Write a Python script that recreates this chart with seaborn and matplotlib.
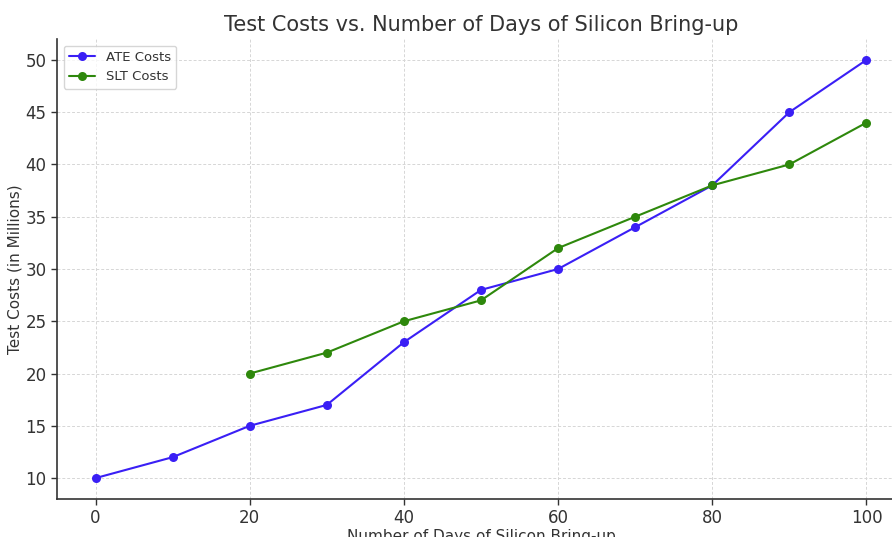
import pandas as pd
import matplotlib.pyplot as plt
import seaborn as sns

# Données
days_ate = [0, 10, 20, 30, 40, 50, 60, 70, 80, 90, 100]
ate_costs = [10, 12, 15, 17, 23, 28, 30, 34, 38, 45, 50]
days_slt = [20, 30, 40, 50, 60, 70, 80, 90, 100]
slt_costs = [20, 22, 25, 27, 32, 35, 38, 40, 44]

sns.set_style("whitegrid", {
    "grid.color": "#d6d6d6",
    "axes.edgecolor": "#333333",
    "xtick.bottom": True,
    "ytick.left": True,
})
plt.rcParams['font.family'] = ['DejaVu Sans']
plt.rcParams['text.color'] = '#333333'
plt.rcParams['xtick.color'] = '#333333'
plt.rcParams['ytick.color'] = '#333333'
plt.rcParams['axes.labelcolor'] = '#333333'

df_ate = pd.DataFrame({'Days': days_ate, 'Cost': ate_costs})
df_slt = pd.DataFrame({'Days': days_slt, 'Cost': slt_costs})

fig = plt.figure(figsize=(8.92, 5.37), dpi=100)
ax = fig.add_axes([57 / 892, 1 - 499 / 537, 848 / 892, 460 / 537])

sns.lineplot(data=df_ate, x='Days', y='Cost', ax=ax, color='#3a1ff5',
             marker='o', markersize=6.5, markeredgewidth=0, linewidth=1.5, label='ATE Costs')
sns.lineplot(data=df_slt, x='Days', y='Cost', ax=ax, color='#2e880c',
             marker='o', markersize=6.5, markeredgewidth=0, linewidth=1.5, label='SLT Costs')

ax.set_xlim(-5, 105)
ax.set_ylim(8, 52)
ax.set_xticks([0, 20, 40, 60, 80, 100])
ax.set_yticks([10, 15, 20, 25, 30, 35, 40, 45, 50])
ax.tick_params(labelsize=12, length=4, width=1)
ax.grid(True, linewidth=0.7, linestyle=(0, (3, 2)))

for s in ['top', 'right']:
    ax.spines[s].set_visible(False)
for s in ['left', 'bottom']:
    ax.spines[s].set_linewidth(1.2)

ax.set_title('Test Costs vs. Number of Days of Silicon Bring-up', fontsize=15, pad=6)
ax.set_xlabel('Number of Days of Silicon Bring-up', fontsize=11, labelpad=1)
ax.set_ylabel('Test Costs (in Millions)', fontsize=11, labelpad=2)
ax.legend(loc='upper left', fontsize=9.5, frameon=True)

plt.savefig('out.png', dpi=100)
